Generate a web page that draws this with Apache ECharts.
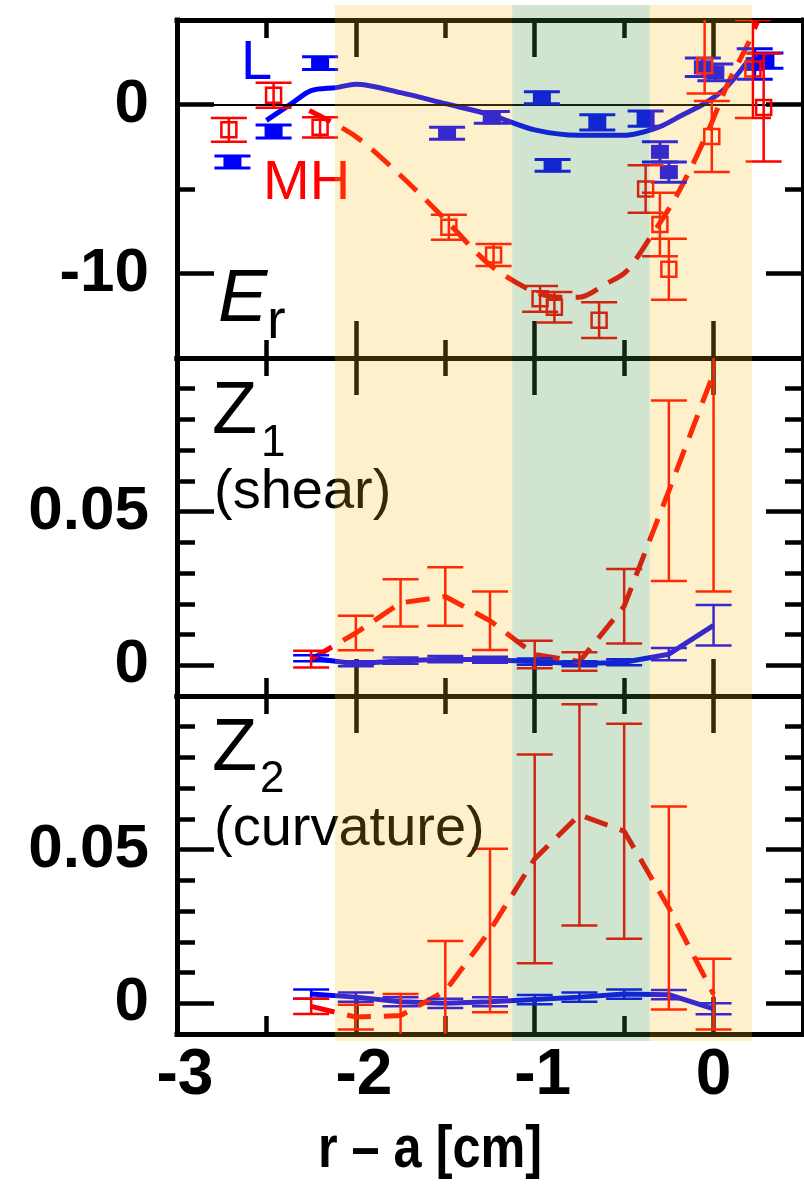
<!DOCTYPE html>
<html>
<head>
<meta charset="utf-8">
<script src="https://cdn.jsdelivr.net/npm/echarts@6/dist/echarts.min.js"></script>
<style>
  html, body { margin: 0; padding: 0; background: #fff; }
  #chart { width: 804px; height: 1184px; }
</style>
</head>
<body>
<div id="chart"></div>
<script>
// ---- axes: r - a [cm] ----
const X_MIN = -3, X_MAX = 0.5;
const xTickMajor = [-3, -2, -1, 0];
const xTickMinor = [-2.5, -1.5, -0.5];
const xTickLabels = [-3, -2, -1, 0];

const erRange = [-15, 5];
const erTickMajor = [-10, 0];
const erTickMinor = [-15, -5, 5];
const erTickLabels = [-10, 0];

const zRange = [-0.01, 0.1];
const zTickMajor = [0, 0.05, 0.1];
const zTickMinor = [-0.01, 0.01, 0.02, 0.03, 0.04, 0.06, 0.07, 0.08, 0.09];
const zTickLabels = [0, 0.05];

// ---- E_r : L-mode measurements (filled squares) ----
const erL_x   = [-2.69, -2.46, -2.2, -1.49, -1.24, -0.96, -0.9, -0.65, -0.38, -0.3, -0.25, -0.06, 0.01, 0.23, 0.29];
const erL_y   = [-3.4, -1.6, 2.45, -1.7, -0.76, 0.4, -3.6, -1.06, -0.84, -2.8, -4.0, 2.2, 1.9, 2.4, 2.6];
const erL_err = [0.35, 0.38, 0.38, 0.35, 0.35, 0.35, 0.35, 0.45, 0.45, 0.6, 0.6, 0.55, 0.5, 0.9, 0.45];

// ---- E_r : MH-mode measurements (open squares) ----
const erMH_x  = [-2.71, -2.46, -2.2, -1.48, -1.23, -0.97, -0.89, -0.64, -0.38, -0.3, -0.25, -0.05, -0.01, 0.22, 0.28];
const erMH_y  = [-1.5, 0.55, -1.35, -7.26, -8.9, -11.5, -12.0, -12.76, -5.0, -7.1, -9.75, 2.3, -1.9, 2.1, -0.18];
const erMH_lo = [0.7, 0.74, 0.6, 0.74, 0.65, 0.76, 0.9, 1.06, 1.41, 1.88, 1.8, 1.65, 2.1, 2.9, 3.2];
const erMH_hi = [0.7, 0.74, 0.6, 0.74, 0.65, 0.76, 0.9, 1.06, 1.41, 1.88, 1.8, 3.0, 2.1, 2.9, 3.2];

// ---- E_r profile fits ----
const fitL_x  = [-2.5, -2.36, -2.25, -2.11, -2.0, -1.75, -1.5, -1.25, -1.0, -0.75, -0.5, -0.31, -0.18, -0.05, 0.07, 0.2];
const fitL_y  = [-0.94, 0.05, 0.82, 1.0, 1.2, 0.7, 0.05, -0.6, -1.5, -1.82, -1.82, -1.35, -0.65, 0.06, 1.0, 2.7];
const fitMH_x = [-2.26, -2.0, -1.75, -1.5, -1.25, -1.0, -0.85, -0.75, -0.6, -0.49, -0.35, -0.22, -0.11, -0.01, 0.08, 0.195, 0.245];
const fitMH_y = [-0.35, -1.9, -4.2, -6.8, -9.5, -11.1, -11.4, -11.4, -10.6, -9.9, -7.8, -5.65, -3.4, -1.06, 1.24, 3.65, 4.9];

// ---- Z1 (shear) and Z2 (curvature) ----
const z_x      = [-2.25, -2.0, -1.75, -1.5, -1.25, -1.0, -0.75, -0.5, -0.25, 0];
const z1MH_y   = [0.002, 0.0105, 0.0203, 0.0224, 0.0145, 0.0035, 0.0012, 0.0192, 0.0568, 0.095];
const z1MH_err = [0.0027, 0.0056, 0.0077, 0.0095, 0.0095, 0.0045, 0.003, 0.0121, 0.0294, 0.071];
const z1L_y    = [0.0023, 0.0005, 0.0015, 0.002, 0.0018, 0.0012, 0.0005, 0.001, 0.0036, 0.013];
const z1L_err  = [0.001, 0.0008, 0.001, 0.001, 0.001, 0.001, 0.0008, 0.001, 0.002, 0.0066];
const z2MH_y   = [-0.001, -0.0045, -0.004, 0.004, 0.0237, 0.047, 0.0613, 0.056, 0.031, 0.003];
const z2MH_err = [0.0025, 0.004, 0.007, 0.0163, 0.0266, 0.034, 0.036, 0.035, 0.033, 0.0115];
const z2L_y    = [0.003, 0.002, 0.0005, 0.0, 0.0005, 0.0012, 0.002, 0.003, 0.0028, -0.0018];
const z2L_err  = [0.0015, 0.0015, 0.0015, 0.0015, 0.0015, 0.0015, 0.0015, 0.0015, 0.0015, 0.0018];

// ---- shaded radial zones ----
const zone_x0   = [-2.117, -1.125, -0.357];
const zone_x1   = [-1.125, -0.357, 0.215];
const zone_kind = ['edge', 'core', 'edge'];

// ---------------------------------------------------------------
const BLACK = '#000000';
const RED = '#ff0000';
const BLUE = '#0000ff';
const FONT = '"Liberation Sans", Arial, Helvetica, sans-serif';
const ZONE_FILL = { edge: 'rgba(255,186,23,0.22)', core: 'rgba(68,148,68,0.25)' };

const GRID_LEFT = 177, GRID_W = 626, PANEL_H = 338;
const panelTops = [20, 358, 696];

function axisBase(len, values, lineOn) {
  return {
    axisLine: { show: lineOn, onZero: false, lineStyle: { color: BLACK, width: 5, cap: 'square' } },
    axisTick: { show: true, inside: true, length: len, customValues: values,
                lineStyle: { color: BLACK, width: 4.5 } },
    minorTick: { show: false },
    splitLine: { show: false },
    axisLabel: { show: false }
  };
}

const xAxes = [], yAxes = [], grids = [];
const yRanges = [erRange, zRange, zRange];
const yMajor = [erTickMajor, zTickMajor, zTickMajor];
const yMinor = [erTickMinor, zTickMinor, zTickMinor];
const yLabels = [erTickLabels, zTickLabels, zTickLabels];

for (let g = 0; g < 3; g++) {
  grids.push({ left: GRID_LEFT, top: panelTops[g], width: GRID_W, height: PANEL_H,
               containLabel: false, outerBoundsMode: 'none' });
  ['bottom', 'top'].forEach(pos => {
    const major = Object.assign(axisBase(37, xTickMajor, true),
      { type: 'value', gridIndex: g, position: pos, min: X_MIN, max: X_MAX });
    if (g === 2 && pos === 'bottom') {
      const txt = { fontSize: 64, fontWeight: 'bold', fontFamily: FONT, color: BLACK };
      major.axisLabel = Object.assign({
        show: true, customValues: xTickLabels, margin: 10,
        formatter: v => (v < 0 ? '{neg|' + v + '}' : '{pos|' + v + '}'),
        rich: { neg: Object.assign({ padding: [0, 0, 0, 16] }, txt), pos: Object.assign({}, txt) }
      }, txt);
    }
    const minor = Object.assign(axisBase(18, xTickMinor, false),
      { type: 'value', gridIndex: g, position: pos, min: X_MIN, max: X_MAX });
    xAxes.push(major, minor);
  });
  ['left', 'right'].forEach(pos => {
    const major = Object.assign(axisBase(37, yMajor[g], true),
      { type: 'value', gridIndex: g, position: pos, min: yRanges[g][0], max: yRanges[g][1] });
    if (pos === 'left') {
      major.axisLabel = { show: true, customValues: yLabels[g], margin: 28,
        fontSize: 62, fontWeight: 'bold', fontFamily: FONT, color: BLACK };
    }
    const minor = Object.assign(axisBase(18, yMinor[g], false),
      { type: 'value', gridIndex: g, position: pos, min: yRanges[g][0], max: yRanges[g][1] });
    yAxes.push(major, minor);
  });
}

// overlay panel spanning all three plots for the shaded zones
grids.push({ left: GRID_LEFT, top: 5, width: GRID_W, bottom: 143, containLabel: false, outerBoundsMode: 'none' });
xAxes.push({ type: 'value', gridIndex: 3, min: X_MIN, max: X_MAX, show: false });
yAxes.push({ type: 'value', gridIndex: 3, min: 0, max: 1, show: false });
const OVERLAY_AXIS = 12;

// error bar renderer: vertical bar with caps, optional square marker
function errorBars(color, width, capW, marker) {
  return function (params, api) {
    const x = api.value(0), y = api.value(1), lo = api.value(2), hi = api.value(3);
    const top = api.coord([x, y + hi]);
    const bot = api.coord([x, y - lo]);
    const c = api.coord([x, y]);
    const st = { stroke: color, lineWidth: width, fill: null };
    const h = capW / 2;
    const kids = [
      { type: 'line', shape: { x1: top[0], y1: top[1], x2: bot[0], y2: bot[1] }, style: st },
      { type: 'line', shape: { x1: top[0] - h, y1: top[1], x2: top[0] + h, y2: top[1] }, style: st },
      { type: 'line', shape: { x1: bot[0] - h, y1: bot[1], x2: bot[0] + h, y2: bot[1] }, style: st }
    ];
    if (marker === 'open') {
      kids.push({ type: 'rect', shape: { x: c[0] - 7.5, y: c[1] - 7.5, width: 15, height: 15 },
                  style: { stroke: color, lineWidth: 2.5, fill: null } });
    } else if (marker === 'filled') {
      kids.push({ type: 'rect', shape: { x: c[0] - 9, y: c[1] - 7, width: 18, height: 14 },
                  style: { fill: color, stroke: null } });
    }
    return { type: 'group', children: kids };
  };
}

function barSeries(g, rows, color, width, marker, z) {
  return {
    type: 'custom', xAxisIndex: g * 4, yAxisIndex: g * 4, clip: true, z: z,
    encode: { x: 0, y: 1 }, silent: true,
    renderItem: errorBars(color, width, 36, marker), data: rows
  };
}

function lineSeries(g, xs, ys, color, dashed, smooth, z) {
  return {
    type: 'line', xAxisIndex: g * 4, yAxisIndex: g * 4, z: z, silent: true,
    showSymbol: false, symbol: 'none', smooth: smooth, clip: true,
    lineStyle: { color: color, width: 5, type: dashed ? [24, 13] : 'solid' },
    data: xs.map((x, i) => [x, ys[i]])
  };
}

const sym = (xs, ys, es) => xs.map((x, i) => [x, ys[i], es[i], es[i]]);

const series = [
  // E_r panel
  Object.assign(lineSeries(0, fitL_x, fitL_y, BLUE, false, 0.3, 3), {
    markLine: { silent: true, symbol: 'none', label: { show: false },
      lineStyle: { color: BLACK, width: 2, type: 'solid' }, data: [{ yAxis: 0 }] }
  }),
  lineSeries(0, fitMH_x, fitMH_y, RED, true, 0.3, 4),
  barSeries(0, sym(erL_x, erL_y, erL_err), BLUE, 3, 'filled', 5),
  barSeries(0, erMH_x.map((x, i) => [x, erMH_y[i], erMH_lo[i], erMH_hi[i]]), RED, 2.5, 'open', 6),
  // Z1 panel
  lineSeries(1, z_x, z1L_y, BLUE, false, false, 3),
  lineSeries(1, z_x, z1MH_y, RED, true, false, 4),
  barSeries(1, sym(z_x, z1L_y, z1L_err), BLUE, 2.5, null, 5),
  barSeries(1, sym(z_x, z1MH_y, z1MH_err), RED, 2.5, null, 6),
  // Z2 panel
  lineSeries(2, z_x, z2L_y, BLUE, false, false, 3),
  lineSeries(2, z_x, z2MH_y, RED, true, false, 4),
  barSeries(2, sym(z_x, z2L_y, z2L_err), BLUE, 2.5, null, 5),
  barSeries(2, sym(z_x, z2MH_y, z2MH_err), RED, 2.5, null, 6),
  // shaded zones laid over all three panels
  {
    type: 'custom', xAxisIndex: OVERLAY_AXIS, yAxisIndex: OVERLAY_AXIS, z: 50, silent: true, clip: false,
    encode: { x: [0, 1] },
    data: zone_x0.map((x0, i) => [x0, zone_x1[i], zone_kind[i]]),
    renderItem: function (params, api) {
      const a = api.coord([api.value(0), 1]);
      const b = api.coord([api.value(1), 0]);
      const kind = zone_kind[params.dataIndex];
      return { type: 'rect', shape: { x: a[0], y: a[1], width: b[0] - a[0], height: b[1] - a[1] },
               style: { fill: ZONE_FILL[kind], stroke: null } };
    }
  }
];

const txt = (x, y, text, font, fill) => ({
  type: 'text', x: x, y: y, z: 10, silent: true,
  style: { text: text, font: font, fill: fill || BLACK, align: 'left', verticalAlign: 'middle' }
});

const graphic = [
  txt(241, 64, 'L', '56px ' + FONT, BLUE),
  txt(263, 184, 'MH', '56px ' + FONT, RED),
  txt(218, 300, 'E', 'italic 74px ' + FONT),
  txt(267, 323, 'r', '56px ' + FONT),
  txt(212, 413, 'Z', '74px ' + FONT),
  txt(261, 444, '1', '44px ' + FONT),
  txt(214, 493, '(shear)', '56px ' + FONT),
  txt(212, 750, 'Z', '74px ' + FONT),
  txt(260, 780, '2', '44px ' + FONT),
  txt(214, 830, '(curvature)', '56px ' + FONT),
  {
    type: 'text', x: 430, y: 1150, scaleX: 0.84, silent: true,
    style: { text: 'r \u2013 a [cm]', font: 'bold 60px ' + FONT, fill: BLACK, align: 'center', verticalAlign: 'middle' }
  }
];

const chart = echarts.init(document.getElementById('chart'), null, { renderer: 'canvas' });
chart.setOption({
  animation: false,
  backgroundColor: '#ffffff',
  grid: grids,
  xAxis: xAxes,
  yAxis: yAxes,
  series: series,
  graphic: graphic
});
</script>
</body>
</html>
